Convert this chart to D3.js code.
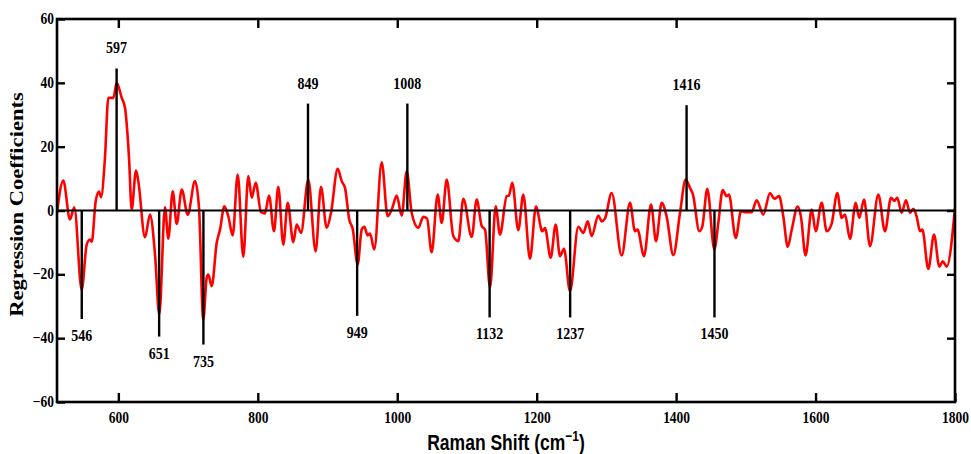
<!DOCTYPE html>
<html>
<head>
<meta charset="utf-8">
<script src="https://cdn.jsdelivr.net/npm/d3@7"></script>
<style>
  body { margin: 0; background: #fff; }
  svg { display: block; }
</style>
</head>
<body>
<div id="chart"></div>
<script>
// regression coefficient spectrum
var ramanShift = [512, 521.0, 530.6, 536.8, 547.4, 554.6, 559.3, 561.8, 567.5, 572.2, 575.1, 580.8,
  585.6, 592.8, 597.6, 604.8, 609.5, 615.3, 619.1, 625.3, 628.6, 638.2, 645.4, 652.6, 658.7,
  666.9, 671.6, 678.0, 683.7, 690.9, 699.5, 709.9, 715.7, 721.8, 726.7, 729.0, 733.9, 741.1,
  745.8, 752.0, 757.7, 764.0, 771.2, 779.2, 786.4, 791.3, 797.0, 804.6, 810.3, 816.1, 823.2,
  829.4, 836.6, 842.9, 850.9, 855.8, 862.0, 872.4, 883.0, 890.6, 898.8, 905.0, 914.6, 920.3,
  925.1, 931.2, 936.1, 943.3, 949.0, 952.8, 957.6, 960.9, 967.1, 977.7, 986.3, 992.9, 999.2,
  1006.4, 1013.6, 1020.7, 1030.2, 1037.4, 1042.7, 1049.4, 1058.0, 1063.8, 1071.0, 1080.4,
  1087.6, 1094.8, 1106.8, 1114.0, 1121.2, 1125.9, 1133.1, 1141.2, 1147.4, 1157.0, 1160.3,
  1165.0, 1173.6, 1180.8, 1190.4, 1199.0, 1208.1, 1211.9, 1220.1, 1227.3, 1233.4, 1239.2,
  1247.8, 1259.7, 1266.9, 1273.2, 1278.9, 1288.4, 1293.3, 1298.0, 1307.6, 1321.9, 1333.9,
  1341.0, 1344.6, 1354.0, 1364.0, 1371.2, 1379.3, 1386.5, 1396.0, 1405.6, 1413.7, 1419.9,
  1424.2, 1433.3, 1437.6, 1444.7, 1454.8, 1460.5, 1466.8, 1472.5, 1475.8, 1485.5, 1493.1,
  1498.8, 1508.4, 1515.5, 1525.0, 1534.7, 1540.8, 1547.6, 1553.7, 1560.1, 1565.8, 1574.4,
  1579.1, 1585.6, 1594.5, 1600.2, 1608.8, 1616.0, 1623.2, 1631.2, 1637.5, 1642.2, 1649.4,
  1657.6, 1662.7, 1669.5, 1678.1, 1690.0, 1699.6, 1708.2, 1712.9, 1717.2, 1723.5, 1729.7,
  1735.4, 1740.2, 1745.1, 1749.8, 1753.1, 1761.7, 1769.9, 1777.5, 1782.4, 1788.1, 1800];

var coefficients = [-0.7, 9.4, -2.8, 1.0, -24.8, -10.7, -9.1, -9.8, 2.9, 5.9, 4.2, 16.5,
  35.3, 35.3, 40, 35.3, 32.2, 16.5, 0.3, 12.5, 9.2, -8.4, -1.3, -13.8, -32.6,
  1.0, -8.8, 6.0, -4.2, 6.6, -1.3, 9.2, 0.8, -34.2, -21.1, -20.1, -23.7, -10.1,
  -6.0, 1.3, -1.8, -7.8, 11.3, -14.5, 10.8, 4.0, 8.7, -0.5, -0.9, 4.7, -6.5,
  7.4, -10.7, 2.4, -9.9, -4.4, -7.0, 9.7, -12.8, 7.4, -5.4, -0.7, 13.1, 9.2,
  7.1, -2.8, -5.7, -16.9, -6.0, -5.1, -7.8, -7.2, -12.2, 15.1, -1.8, 0.8, 4.7,
  -1.6, 12.3, -0.7, -5.4, -2.0, -2.5, -13.1, 5.0, -3.9, 9.7, -8.0,
  -9.6, 3.7, -8.3, 3.4, -4.9, -6.0, -24.2, 1.3, -7.5, 4.5, 4.7,
  8.7, -6.2, 5.0, -15.1, 1.2, -6.5, -5.5, -14.8, -4.4, -14.3, -12.0,
  -25.3, -5.1, -7.0, -3.4, -8.0, -1.6, -3.4, -2.5, 5.5, -14.1, 2.4,
  -6.5, -6.0, -14.3, 1.9, -9.6, 2.4, -2.0, -14.0, -0.7, 9.7, 7.1,
  5.0, -6.5, -5.0, 6.8, -12.2, -3.9, 6.4, 4.5, 5.0, -8.6, -0.2,
  -0.5, -0.5, 3.2, -1.3, 5.5, 3.7, 4.5, -1.8, -11.4, -6.0, 1.2,
  -2.0, -14.1, 0.3, -6.5, 2.4, -6.5, -4.0, 5.5, -2.3, -1.3, -8.9,
  2.4, -2.3, 3.4, -11.2, 5.0, -6.5, 4.0, 3.0, 4.0, -0.7, 3.2,
  -0.7, 0.5, -2.0, -6.5, -6.0, -18.3, -7.5, -17.6, -15.9, -17.6, 0.8];

// marked bands: where the stick is drawn, how far it reaches, what it says
var peakShift = [547.5, 597.5, 658.5, 722, 872, 942.5, 1014.5, 1132.5, 1248, 1415, 1455];
var peakTip = [-34, 44.5, -39.5, -42, 33.5, -33, 33.5, -33.5, -33.5, 33, -33.5];
var peakLabels = ["546", "597", "651", "735", "849", "949", "1008", "1132", "1237", "1416", "1450"];

var xTicks = [600, 800, 1000, 1200, 1400, 1600, 1800];
var yTicks = [-60, -40, -20, 0, 20, 40, 60];

var width = 971, height = 454;
var margin = {top: 19, right: 16, bottom: 52, left: 57};
var stretch = 1.22; // the figure's lettering is tall and narrow

var svg = d3.select("#chart").append("svg")
    .attr("width", width)
    .attr("height", height);

svg.append("rect").attr("width", width).attr("height", height).attr("fill", "#fff");

var x = d3.scaleLinear()
    .domain([512, 1800])
    .range([margin.left, width - margin.right]);

var y = d3.scaleLinear()
    .domain([-60, 60])
    .range([height - margin.bottom, margin.top]);

var serif = "'Liberation Serif', 'Times New Roman', serif";

// clip for the curve
svg.append("clipPath").attr("id", "plot-clip")
  .append("rect")
    .attr("x", x.range()[0])
    .attr("y", y.range()[1])
    .attr("width", x.range()[1] - x.range()[0])
    .attr("height", y.range()[0] - y.range()[1]);

var points = ramanShift.map(function(d, i) { return [d, coefficients[i]]; });

var line = d3.line()
    .x(function(d) { return x(d[0]); })
    .y(function(d) { return y(d[1]); })
    .curve(d3.curveMonotoneX);

svg.append("path")
    .datum(points)
    .attr("clip-path", "url(#plot-clip)")
    .attr("fill", "none")
    .attr("stroke", "#ff0000")
    .attr("stroke-width", 2.6)
    .attr("stroke-linejoin", "round")
    .attr("d", line);

// zero line
svg.append("line")
    .attr("x1", x.range()[0]).attr("x2", x.range()[1])
    .attr("y1", y(0)).attr("y2", y(0))
    .attr("stroke", "#000")
    .attr("stroke-width", 2.2);

// sticks at marked bands
svg.selectAll(".stick")
    .data(peakShift)
    .enter().append("line")
    .attr("class", "stick")
    .attr("x1", function(d) { return x(d); })
    .attr("x2", function(d) { return x(d); })
    .attr("y1", y(0))
    .attr("y2", function(d, i) { return y(peakTip[i]); })
    .attr("stroke", "#000")
    .attr("stroke-width", 2.4);

svg.selectAll(".peak-label")
    .data(peakLabels)
    .enter().append("text")
    .attr("class", "peak-label")
    .attr("transform", function(d, i) {
        var up = peakTip[i] > 0;
        var ty = up ? y(peakTip[i]) - 15 : y(peakTip[i]) + 22;
        return "translate(" + x(peakShift[i]) + "," + ty + ") scale(1," + stretch + ")";
    })
    .attr("text-anchor", "middle")
    .attr("font-family", serif)
    .attr("font-weight", "bold")
    .attr("font-size", 14)
    .text(function(d) { return d; });

// axes, ticks pointing inward on all four sides
function styleAxis(g) {
    g.select(".domain").remove();
    g.selectAll(".tick line").attr("stroke", "#000").attr("stroke-width", 2.4);
}

svg.append("g")
    .attr("transform", "translate(0," + y.range()[0] + ")")
    .call(d3.axisBottom(x).tickValues(xTicks).tickSizeInner(-9).tickSizeOuter(0).tickFormat(d3.format("d")))
    .call(styleAxis)
    .call(function(g) {
        g.selectAll(".tick text")
            .attr("y", null).attr("dy", null)
            .attr("transform", "translate(0,21) scale(1," + stretch + ")")
            .attr("fill", "#000")
            .attr("font-family", serif)
            .attr("font-weight", "bold")
            .attr("font-size", 13.5);
    });

svg.append("g")
    .attr("transform", "translate(0," + y.range()[1] + ")")
    .call(d3.axisTop(x).tickValues(xTicks.slice(0, -1)).tickSizeInner(-9).tickSizeOuter(0).tickFormat(""))
    .call(styleAxis);

svg.append("g")
    .attr("transform", "translate(" + x.range()[0] + ",0)")
    .call(d3.axisLeft(y).tickValues(yTicks).tickSizeInner(-8).tickSizeOuter(0))
    .call(styleAxis)
    .call(function(g) {
        g.selectAll(".tick text")
            .attr("x", null).attr("dy", null)
            .attr("transform", "translate(-3,4.5) scale(1," + stretch + ")")
            .attr("fill", "#000")
            .attr("font-family", serif)
            .attr("font-weight", "bold")
            .attr("font-size", 13.5);
    });

svg.append("g")
    .attr("transform", "translate(" + x.range()[1] + ",0)")
    .call(d3.axisRight(y).tickValues(yTicks.slice(1, -1)).tickSizeInner(-8).tickSizeOuter(0).tickFormat(""))
    .call(styleAxis);

// frame
svg.append("rect")
    .attr("x", x.range()[0])
    .attr("y", y.range()[1])
    .attr("width", x.range()[1] - x.range()[0])
    .attr("height", y.range()[0] - y.range()[1])
    .attr("fill", "none")
    .attr("stroke", "#000")
    .attr("stroke-width", 2.6);

// axis titles
svg.append("text")
    .attr("transform", "translate(23," + (y(0) - 6) + ") rotate(-90) scale(" + stretch + ",1)")
    .attr("text-anchor", "middle")
    .attr("font-family", serif)
    .attr("font-weight", "bold")
    .attr("font-size", 18.5)
    .text("Regression Coefficients");

var xt = svg.append("text")
    .attr("transform", "translate(" + ((x.range()[0] + x.range()[1]) / 2) + ",450) scale(1," + stretch + ")")
    .attr("text-anchor", "middle")
    .attr("font-family", "'Liberation Sans', Arial, sans-serif")
    .attr("font-weight", "bold")
    .attr("font-size", 17.5);
xt.append("tspan").text("Raman Shift (cm");
xt.append("tspan").attr("dy", -7).attr("font-size", 12).text("\u22121");
xt.append("tspan").attr("dy", 7).text(")");
</script>
</body>
</html>
